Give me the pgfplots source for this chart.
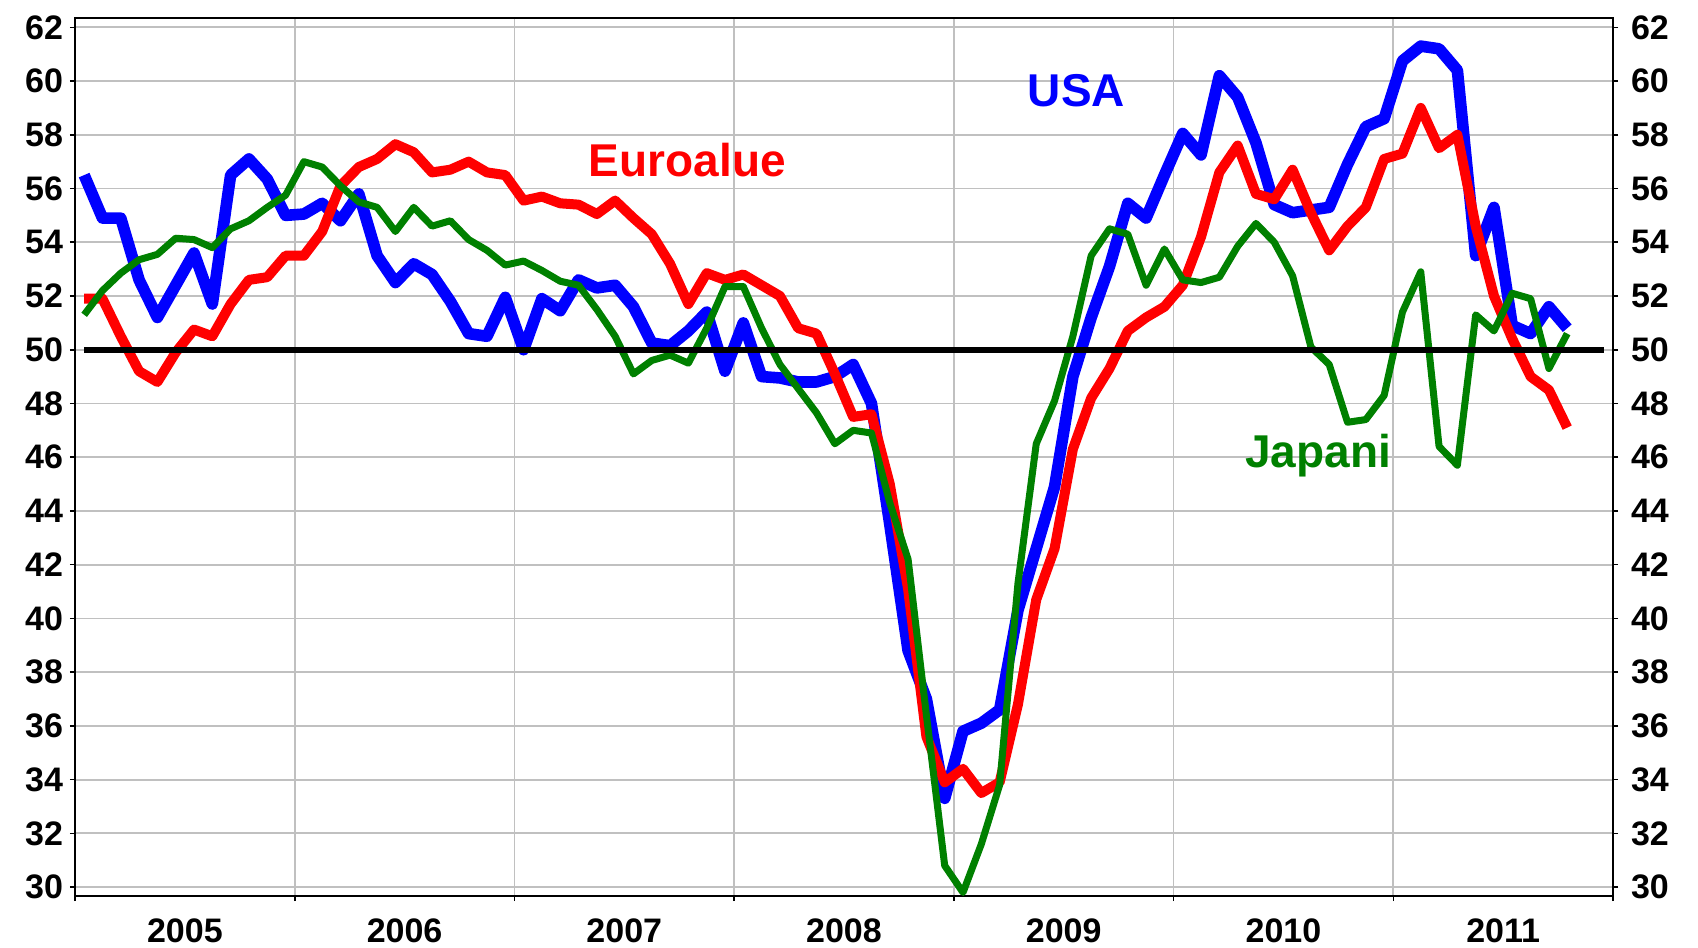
\documentclass[border=0pt]{standalone}
\usepackage{fontspec}
\setmainfont{Liberation Sans}
\usepackage{pgfplots}
\usepackage{pgfplotstable}
\pgfplotsset{compat=1.18}
\definecolor{gridgray}{RGB}{192,192,192}
\definecolor{jpgreen}{RGB}{0,128,0}
\pgfplotstableread{
i usa euro japan
0 56.5 51.9 51.3
1 54.9 51.9 52.2
2 54.9 50.5 52.85
3 52.6 49.2 53.35
4 51.2 48.8 53.55
5 52.4 49.9 54.15
6 53.6 50.75 54.1
7 51.7 50.5 53.8
8 56.5 51.7 54.5
9 57.1 52.6 54.8
10 56.35 52.7 55.3
11 55.0 53.5 55.75
12 55.05 53.5 57.0
13 55.45 54.4 56.8
14 54.8 56.1 56.1
15 55.8 56.8 55.5
16 53.5 57.1 55.3
17 52.5 57.65 54.4
18 53.2 57.35 55.3
19 52.8 56.6 54.6
20 51.8 56.7 54.8
21 50.6 57.0 54.1
22 50.5 56.6 53.7
23 51.95 56.5 53.15
24 50.0 55.55 53.3
25 51.9 55.7 52.95
26 51.45 55.45 52.55
27 52.6 55.4 52.4
28 52.3 55.05 51.5
29 52.4 55.55 50.5
30 51.6 54.9 49.1
31 50.25 54.3 49.6
32 50.15 53.2 49.8
33 50.7 51.7 49.5
34 51.4 52.85 50.8
35 49.2 52.6 52.35
36 51.0 52.8 52.35
37 49.0 52.4 50.8
38 48.95 52.0 49.45
39 48.8 50.8 48.55
40 48.8 50.6 47.65
41 49.0 49.1 46.5
42 49.45 47.5 47.0
43 48.0 47.6 46.9
44 43.5 45.0 44.3
45 38.8 41.1 42.2
46 37.0 35.6 36.4
47 33.3 33.9 30.8
48 35.8 34.4 29.8
49 36.1 33.5 31.6
50 36.6 33.9 33.8
51 40.3 36.8 41.3
52 42.6 40.7 46.5
53 44.9 42.6 48.1
54 49.0 46.3 50.5
55 51.2 48.2 53.5
56 53.1 49.3 54.5
57 55.45 50.7 54.3
58 54.9 51.2 52.4
59 56.5 51.6 53.75
60 58.05 52.4 52.6
61 57.25 54.2 52.5
62 60.2 56.6 52.7
63 59.4 57.6 53.85
64 57.7 55.8 54.7
65 55.4 55.6 54.0
66 55.1 56.7 52.75
67 55.2 55.1 50.1
68 55.3 53.7 49.45
69 56.9 54.6 47.3
70 58.3 55.3 47.4
71 58.6 57.1 48.3
72 60.75 57.3 51.4
73 61.3 59.0 52.9
74 61.2 57.5 46.4
75 60.4 58.0 45.7
76 53.5 54.6 51.3
77 55.3 52.0 50.7
78 50.9 50.4 52.1
79 50.6 49.0 51.9
80 51.6 48.5 49.3
81 50.8 47.1 50.6
}\data
\begin{document}
\begin{tikzpicture}
\begin{axis}[
  scale only axis, width=769pt, height=439pt,
  xmin=-0.5, xmax=83.5, ymin=29.66, ymax=62.34,
  axis line style={line width=0.8pt, black},
  xtick={-0.5,11.5,23.5,35.5,47.5,59.5,71.5,83.5},
  xticklabels={,,,,,,,},
  extra x ticks={5.5,17.5,29.5,41.5,53.5,65.5,77.5},
  extra x tick labels={2005,2006,2007,2008,2009,2010,2011},
  extra x tick style={grid=none, major tick length=0pt},
  ytick={30,32,...,62},
  xtick pos=bottom, ytick pos=left,
  xmajorgrids=true, ymajorgrids=true,
  grid style={line width=0.9pt, gridgray},
  tick align=outside, major tick length=2.5pt,
  tick style={line width=0.8pt, black},
  tick label style={font=\fontsize{17}{20}\selectfont\bfseries},
  /pgf/number format/assume math mode=true,
  xticklabel style={yshift=-7.5pt},
]
\addplot[blue, line width=5.8pt, line join=round] table[x=i, y=usa]{\data};
\addplot[red, line width=5pt, line join=round] table[x=i, y=euro]{\data};
\addplot[jpgreen, line width=3.5pt, line join=round] table[x=i, y=japan]{\data};
\addplot[black, line width=3pt] coordinates {(0,50) (83,50)};
\node[anchor=base, text=blue, font=\fontsize{23}{26}\selectfont\bfseries] at (axis cs:54.2,59.05) {USA};
\node[anchor=base, text=red, font=\fontsize{23}{26}\selectfont\bfseries] at (axis cs:32.94,56.45) {Euroalue};
\node[anchor=base, text=jpgreen, font=\fontsize{23}{26}\selectfont\bfseries] at (axis cs:67.4,45.6) {Japani};
\coordinate (sw) at (rel axis cs:0,0);
\coordinate (ne) at (rel axis cs:1,1);
\end{axis}
\begin{axis}[
  scale only axis, width=769pt, height=439pt,
  xmin=-0.5, xmax=83.5, ymin=29.66, ymax=62.34,
  axis x line=none, axis y line*=right,
  axis line style={line width=0.8pt, black},
  ytick={30,32,...,62},
  tick align=outside, major tick length=2.5pt,
  tick style={line width=0.8pt, black},
  tick label style={font=\fontsize{17}{20}\selectfont\bfseries},
  /pgf/number format/assume math mode=true,
  yticklabel style={xshift=3pt},
]
\addplot[draw=none] coordinates {(0,50)};
\end{axis}
\pgfresetboundingbox
\path[use as bounding box] ([shift={(-37.5pt,-25.85pt)}]sw) rectangle ([shift={(42.5pt,9.1pt)}]ne);
\end{tikzpicture}
\end{document}
